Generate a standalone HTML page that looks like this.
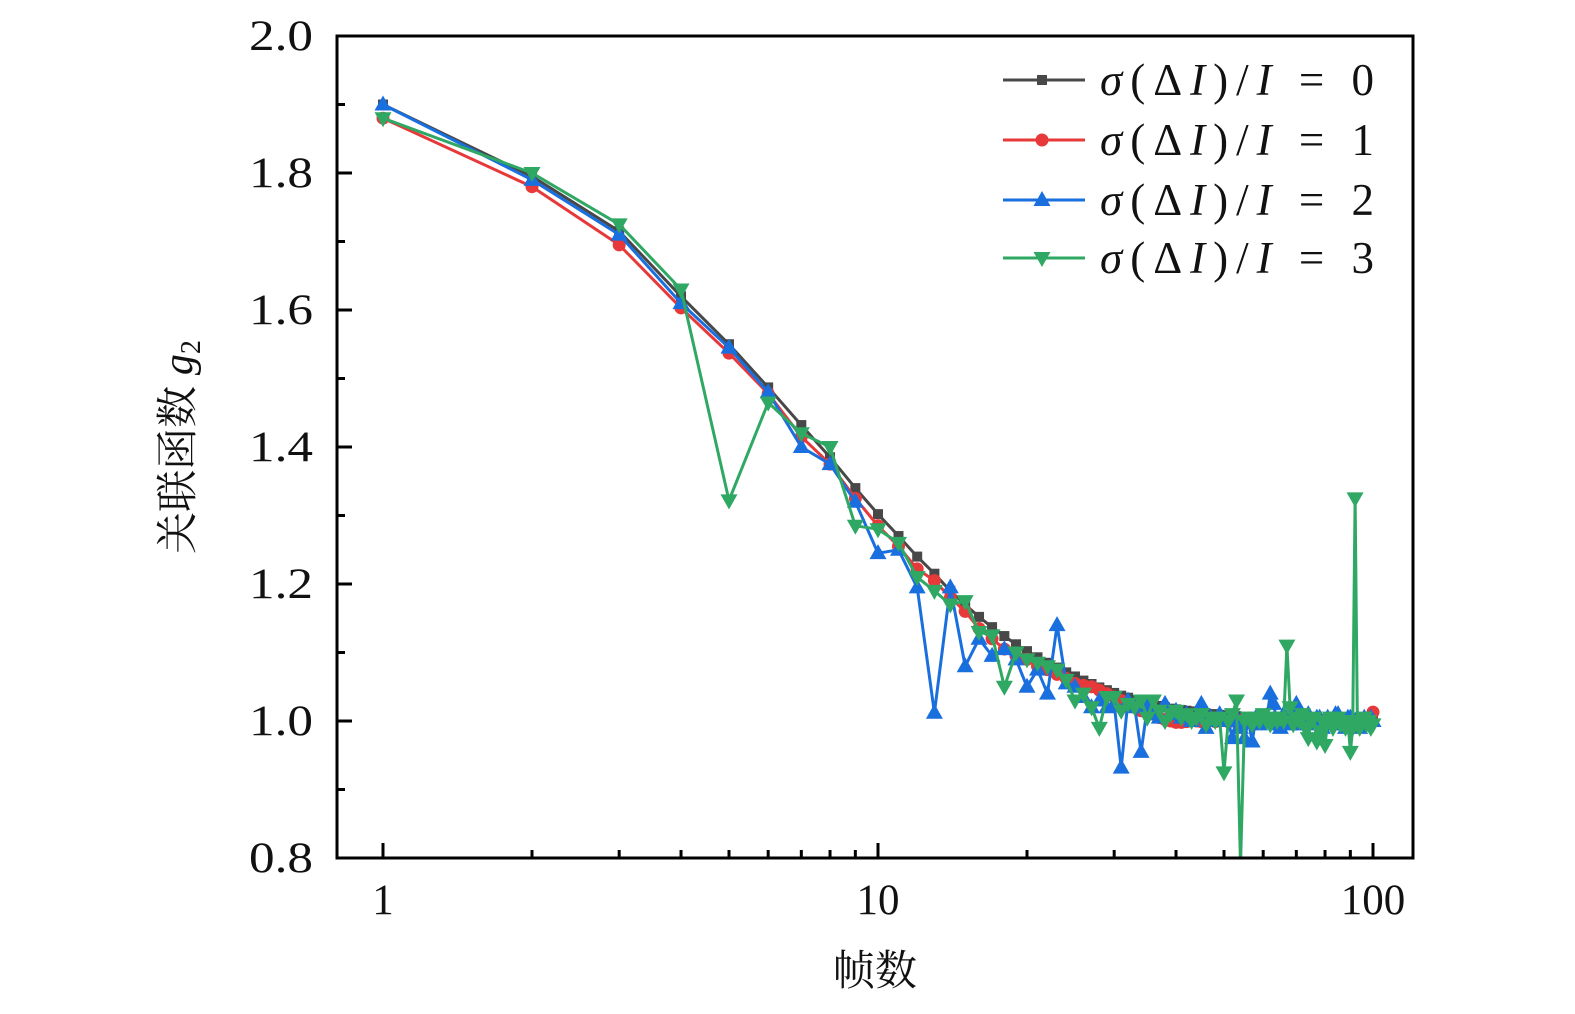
<!DOCTYPE html>
<html><head><meta charset="utf-8"><style>
html,body{margin:0;padding:0;background:#fff;}
svg{display:block;}
text{font-family:"Liberation Serif","Noto Serif CJK SC",serif;fill:#111;}
</style></head><body>
<svg id="chart" width="1575" height="1014" viewBox="0 0 1575 1014" xmlns="http://www.w3.org/2000/svg">
<defs><clipPath id="plotclip"><rect x="337" y="36" width="1076" height="822"/></clipPath></defs>
<g id="series" clip-path="url(#plotclip)"></g>
<g id="axes"></g>
<g id="legend"></g>
<text x="875" y="985" font-size="42" text-anchor="middle" style="font-family:'Noto Serif CJK SC','Noto Sans CJK SC',serif">帧数</text>
<text transform="translate(192,447) rotate(-90)" font-size="42" text-anchor="middle"><tspan style="font-family:'Noto Serif CJK SC','Noto Sans CJK SC',serif">关联函数 </tspan><tspan font-style="italic">g</tspan><tspan font-size="28" dy="8">2</tspan></text>
</svg>
<script>
const frames = Array.from({length:100},(_,i)=>i+1);
const seriesK0 = [1.900,1.795,1.715,1.620,1.550,1.487,1.432,1.385,1.340,1.302,
1.270,1.240,1.215,1.190,1.170,1.152,1.137,1.124,1.112,1.102,
1.093,1.085,1.078,1.071,1.065,1.059,1.054,1.049,1.045,1.041,
1.037,1.034,1.031,1.028,1.026,1.024,1.022,1.020,1.018,1.017,
1.016,1.015,1.014,1.013,1.012,1.011,1.010,1.010,1.009,1.008,
1.008,1.007,1.007,1.006,1.006,1.005,1.005,1.005,1.004,1.004,
1.004,1.003,1.003,1.003,1.003,1.002,1.002,1.002,1.002,1.002,
1.002,1.001,1.001,1.001,1.001,1.001,1.001,1.001,1.001,1.001,
1.000,1.000,1.000,1.000,1.000,1.000,1.000,1.000,1.000,1.000,
1.000,1.000,1.000,1.000,1.000,1.000,1.000,1.000,1.000,1.000];
const seriesK1 = [1.880,1.780,1.695,1.603,1.537,1.478,1.415,1.375,1.325,1.285,
1.255,1.222,1.205,1.180,1.160,1.135,1.120,1.105,1.095,1.090,
1.080,1.075,1.068,1.062,1.055,1.052,1.050,1.045,1.040,1.035,
1.030,1.025,1.020,1.015,1.012,1.010,1.005,1.002,1.000,0.998,
0.998,0.999,1.001,1.000,0.999,1.002,1.001,0.999,1.000,1.001,
0.999,1.000,1.002,1.001,0.999,1.000,1.001,1.000,0.999,1.002,
1.000,0.999,1.001,1.000,1.002,0.999,1.000,1.001,0.999,1.000,
1.001,1.000,0.999,1.001,1.000,1.002,0.999,1.000,1.001,1.000,
0.999,1.001,1.000,1.002,0.999,1.000,1.001,1.000,0.999,1.001,
1.000,1.002,0.999,1.000,1.001,1.000,1.002,1.001,1.003,1.013];
const seriesK2 = [1.900,1.790,1.710,1.610,1.545,1.480,1.400,1.375,1.320,1.245,
1.250,1.195,1.012,1.195,1.080,1.120,1.095,1.105,1.090,1.050,
1.075,1.040,1.140,1.055,1.050,1.035,1.020,1.030,1.020,1.025,
0.932,1.030,1.020,0.955,1.020,1.010,1.005,1.025,1.010,1.015,
1.005,1.010,1.000,1.005,1.025,0.990,1.005,1.000,1.010,1.000,
1.000,0.975,1.005,0.990,0.975,1.000,0.970,1.005,0.995,1.005,
1.000,1.040,1.025,0.995,0.990,1.010,1.000,0.995,1.005,1.025,
1.000,0.995,1.005,1.010,0.995,1.000,1.005,1.005,0.990,1.000,
1.005,0.995,1.000,1.010,1.010,0.995,1.000,0.990,1.005,1.005,
0.995,1.000,1.005,0.990,1.000,1.005,0.995,1.000,1.005,1.000];
const seriesK3 = [1.880,1.800,1.725,1.630,1.322,1.465,1.420,1.400,1.285,1.280,
1.260,1.210,1.190,1.170,1.175,1.130,1.125,1.050,1.100,1.090,
1.085,1.080,1.075,1.060,1.030,1.040,1.020,0.990,1.035,1.035,
1.015,1.025,1.020,1.030,1.005,1.030,1.015,1.000,1.010,1.015,
1.005,1.010,1.000,1.005,1.010,0.995,1.005,1.000,1.005,0.925,
1.000,1.010,1.030,0.790,1.000,1.005,0.995,1.005,1.000,1.010,
1.000,0.995,1.005,1.000,1.005,1.000,1.110,1.020,0.995,1.005,
1.000,1.010,0.990,0.975,1.000,1.005,0.970,0.985,1.000,0.965,
1.000,1.005,0.990,1.000,1.005,0.995,1.000,0.990,1.000,0.955,
0.990,1.325,0.995,0.990,1.000,1.005,0.995,1.000,0.990,0.995];
const yTicks = [0.8,1.0,1.2,1.4,1.6,1.8,2.0];
const yTickLabels = ["0.8","1.0","1.2","1.4","1.6","1.8","2.0"];
const xTicks = [1,10,100];
const xTickLabels = ["1","10","100"];
const legendLabels = ["0","1","2","3"];

const NS="http://www.w3.org/2000/svg";
const L=337,R=1413,T=36,B=858;
const xs = v => 383 + 495*Math.log10(v);
const ys = v => B - (v-0.8)/1.2*(B-T);
function mk(tag,attrs,parent){const e=document.createElementNS(NS,tag);for(const k in attrs)e.setAttribute(k,attrs[k]);parent.appendChild(e);return e;}
const axes=document.getElementById('axes');
const frame=mk('rect',{x:L,y:T,width:R-L,height:B-T,fill:'none',stroke:'#000','stroke-width':3},axes);


for(let i=0;i<=12;i++){
  const v=0.8+i*0.1;
  const major=(i%2===0);
  const t=mk('line',{x1:L,x2:L+(major?15:8),y1:ys(v),y2:ys(v),stroke:'#000','stroke-width':3},axes);
  
  
}
yTicks.forEach((v,i)=>{
  const t=mk('text',{x:313,y:ys(v)+14,'font-size':43,'text-anchor':'end',textLength:64,lengthAdjust:'spacingAndGlyphs'},axes);
  t.textContent=yTickLabels[i];
  
  
});
for(let d=1;d<=100;d*=10){
  for(let m=1;m<=9;m++){
    const v=d*m; if(v>100)break;
    const major=(m===1);
    const t=mk('line',{x1:xs(v),x2:xs(v),y1:B,y2:B-(major?15:8),stroke:'#000','stroke-width':3},axes);
    
    
  }
}
xTicks.forEach((v,i)=>{
  const t=mk('text',{x:xs(v),y:914,'font-size':43,'text-anchor':'middle'},axes);
  t.textContent=xTickLabels[i];
  
  
});
const colors=['#484848','#e8393a','#1a6fde','#2ea862'];
const shapes=['square','circle','up','down'];
const all=[seriesK0,seriesK1,seriesK2,seriesK3];
function marker(shape,x,y,c,g){
  let e;
  if(shape==='square')e=mk('rect',{x:x-5,y:y-5,width:10,height:10,fill:c},g);
  else if(shape==='circle')e=mk('circle',{cx:x,cy:y,r:6.5,fill:c},g);
  else if(shape==='up')e=mk('polygon',{points:`${x},${y-9} ${x-8.5},${y+6} ${x+8.5},${y+6}`,fill:c},g);
  else e=mk('polygon',{points:`${x},${y+9} ${x-8.5},${y-6} ${x+8.5},${y-6}`,fill:c},g);
  return e;
}
const sg=document.getElementById('series');
all.forEach((data,si)=>{
  const g=mk('g',{},sg);
  
  
  const pts=frames.map((f,i)=>xs(f).toFixed(1)+','+ys(data[i]).toFixed(1)).join(' ');
  const pl=mk('polyline',{points:pts,fill:'none',stroke:colors[si],'stroke-width':3,'stroke-linejoin':'round'},g);
  
  
  frames.forEach((f,i)=>{
    const m=marker(shapes[si],xs(f),ys(data[i]),colors[si],g);
    
    
  });
});
const lg=document.getElementById('legend');
const rowsY=[80,140,200,258];
legendLabels.forEach((lab,i)=>{
  const y=rowsY[i];
  const g=mk('g',{},lg);
  
  
  mk('line',{x1:1003,x2:1085,y1:y,y2:y,stroke:colors[i],'stroke-width':3},g);
  marker(shapes[i],1042,y,colors[i],g);
  const t=mk('text',{x:1100,y:y+15,'font-size':45,textLength:274,lengthAdjust:'spacing'},g);
  t.innerHTML='<tspan font-style="italic">σ</tspan>(Δ<tspan font-style="italic">I</tspan>)/<tspan font-style="italic">I</tspan> = '+lab;
});
</script>
</body></html>
